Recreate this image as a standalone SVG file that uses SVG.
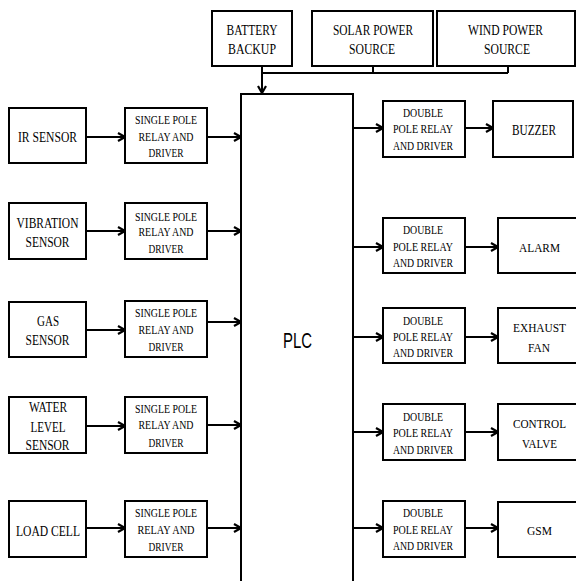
<svg xmlns="http://www.w3.org/2000/svg" width="576" height="581" viewBox="0 0 576 581">
<style>
.b{fill:#fff;stroke:#000;stroke-width:2}
.c{fill:none;stroke:#000;stroke-width:2}
text{font-family:"Liberation Serif","Times New Roman",serif;fill:#000;text-anchor:middle}
.t{font-size:14px}
.o{font-size:13px}
.r{font-size:12px}
.p{font-family:"Liberation Sans",Arial,sans-serif;font-size:22px}
</style>
<defs>
<marker id="ar" markerUnits="userSpaceOnUse" viewBox="0 0 10 10" markerWidth="10" markerHeight="10" refX="9" refY="5" orient="auto">
<path d="M2,1 L9,5 L2,9" fill="none" stroke="#000" stroke-width="2.2"/>
</marker>
</defs>
<rect width="576" height="581" fill="#fff"/>
<g id="connectors">
<line class="c" x1="262" y1="66" x2="262" y2="93" marker-end="url(#ar)"/>
<polyline class="c" points="262,73 508,73"/>
<line class="c" x1="373" y1="66" x2="373" y2="73"/>
<line class="c" x1="508" y1="66" x2="508" y2="73"/>
<line class="c" x1="86" y1="137" x2="125" y2="137" marker-end="url(#ar)"/>
<line class="c" x1="207" y1="137" x2="241" y2="137" marker-end="url(#ar)"/>
<line class="c" x1="86" y1="231" x2="125" y2="231" marker-end="url(#ar)"/>
<line class="c" x1="207" y1="231" x2="241" y2="231" marker-end="url(#ar)"/>
<line class="c" x1="86" y1="330" x2="125" y2="330" marker-end="url(#ar)"/>
<line class="c" x1="207" y1="322" x2="241" y2="322" marker-end="url(#ar)"/>
<line class="c" x1="86" y1="426" x2="125" y2="426" marker-end="url(#ar)"/>
<line class="c" x1="207" y1="425" x2="241" y2="425" marker-end="url(#ar)"/>
<line class="c" x1="86" y1="528" x2="125" y2="528" marker-end="url(#ar)"/>
<line class="c" x1="207" y1="528" x2="241" y2="528" marker-end="url(#ar)"/>
<line class="c" x1="353" y1="128" x2="383" y2="128" marker-end="url(#ar)"/>
<line class="c" x1="353" y1="247" x2="383" y2="247" marker-end="url(#ar)"/>
<line class="c" x1="353" y1="337" x2="383" y2="337" marker-end="url(#ar)"/>
<line class="c" x1="353" y1="432" x2="383" y2="432" marker-end="url(#ar)"/>
<line class="c" x1="347" y1="528" x2="383" y2="528" marker-end="url(#ar)"/>
<line class="c" x1="458" y1="128" x2="493" y2="128" marker-end="url(#ar)"/>
<line class="c" x1="465" y1="247" x2="498" y2="247" marker-end="url(#ar)"/>
<line class="c" x1="465" y1="337" x2="498" y2="337" marker-end="url(#ar)"/>
<line class="c" x1="465" y1="432" x2="498" y2="432" marker-end="url(#ar)"/>
<line class="c" x1="465" y1="528" x2="498" y2="528" marker-end="url(#ar)"/>
</g>
<g id="battery"><rect class="b" x="212" y="11" width="80" height="55"/>
<text class="t" x="252" y="35" textLength="51" lengthAdjust="spacingAndGlyphs">BATTERY</text>
<text class="t" x="252" y="54" textLength="48" lengthAdjust="spacingAndGlyphs">BACKUP</text></g>
<g id="solar"><rect class="b" x="312" y="11" width="121" height="55"/>
<text class="t" x="373" y="35" textLength="80" lengthAdjust="spacingAndGlyphs">SOLAR POWER</text>
<text class="t" x="372" y="54" textLength="46" lengthAdjust="spacingAndGlyphs">SOURCE</text></g>
<g id="wind"><rect class="b" x="437" y="11" width="138" height="55"/>
<text class="t" x="505.5" y="35" textLength="75" lengthAdjust="spacingAndGlyphs">WIND POWER</text>
<text class="t" x="507" y="54" textLength="46" lengthAdjust="spacingAndGlyphs">SOURCE</text></g>
<g id="plc"><rect class="b" x="241" y="94" width="112" height="500"/>
<text class="p" x="297.5" y="348" textLength="29" lengthAdjust="spacingAndGlyphs">PLC</text></g>
<g id="ir"><rect class="b" x="9" y="108" width="77" height="55"/>
<text class="t" x="47.5" y="142" textLength="59" lengthAdjust="spacingAndGlyphs">IR SENSOR</text></g>
<g id="vib"><rect class="b" x="9" y="203" width="77" height="56"/>
<text class="t" x="47.5" y="228" textLength="62" lengthAdjust="spacingAndGlyphs">VIBRATION</text>
<text class="t" x="47.5" y="247" textLength="44" lengthAdjust="spacingAndGlyphs">SENSOR</text></g>
<g id="gas"><rect class="b" x="9" y="302" width="77" height="55"/>
<text class="t" x="48" y="326" textLength="22" lengthAdjust="spacingAndGlyphs">GAS</text>
<text class="t" x="47.5" y="345" textLength="44" lengthAdjust="spacingAndGlyphs">SENSOR</text></g>
<g id="water"><rect class="b" x="9" y="397" width="77" height="56"/>
<text class="t" x="48" y="412" textLength="38" lengthAdjust="spacingAndGlyphs">WATER</text>
<text class="t" x="48" y="432" textLength="35" lengthAdjust="spacingAndGlyphs">LEVEL</text>
<text class="t" x="47.5" y="450" textLength="44" lengthAdjust="spacingAndGlyphs">SENSOR</text></g>
<g id="load"><rect class="b" x="9" y="501" width="77" height="56"/>
<text class="t" x="48" y="536" textLength="64" lengthAdjust="spacingAndGlyphs">LOAD CELL</text></g>
<g id="sp1"><rect class="b" x="125" y="108" width="82" height="55"/>
<text class="r" x="166" y="124" textLength="62" lengthAdjust="spacingAndGlyphs">SINGLE POLE</text>
<text class="r" x="166" y="141" textLength="55" lengthAdjust="spacingAndGlyphs">RELAY AND</text>
<text class="r" x="166" y="157" textLength="35" lengthAdjust="spacingAndGlyphs">DRIVER</text></g>
<g id="sp2"><rect class="b" x="125" y="203" width="82" height="56"/>
<text class="r" x="166" y="221" textLength="62" lengthAdjust="spacingAndGlyphs">SINGLE POLE</text>
<text class="r" x="166" y="236" textLength="55" lengthAdjust="spacingAndGlyphs">RELAY AND</text>
<text class="r" x="166" y="253" textLength="35" lengthAdjust="spacingAndGlyphs">DRIVER</text></g>
<g id="sp3"><rect class="b" x="125" y="301" width="82" height="56"/>
<text class="r" x="166" y="317" textLength="62" lengthAdjust="spacingAndGlyphs">SINGLE POLE</text>
<text class="r" x="166" y="334" textLength="55" lengthAdjust="spacingAndGlyphs">RELAY AND</text>
<text class="r" x="166" y="351" textLength="35" lengthAdjust="spacingAndGlyphs">DRIVER</text></g>
<g id="sp4"><rect class="b" x="125" y="397" width="82" height="56"/>
<text class="r" x="166" y="413" textLength="62" lengthAdjust="spacingAndGlyphs">SINGLE POLE</text>
<text class="r" x="166" y="429" textLength="55" lengthAdjust="spacingAndGlyphs">RELAY AND</text>
<text class="r" x="166" y="447" textLength="35" lengthAdjust="spacingAndGlyphs">DRIVER</text></g>
<g id="sp5"><rect class="b" x="125" y="501" width="82" height="56"/>
<text class="r" x="166" y="517" textLength="62" lengthAdjust="spacingAndGlyphs">SINGLE POLE</text>
<text class="r" x="166" y="534" textLength="57" lengthAdjust="spacingAndGlyphs">RELAY AND</text>
<text class="r" x="166" y="551" textLength="35" lengthAdjust="spacingAndGlyphs">DRIVER</text></g>
<g id="dp1"><rect class="b" x="383" y="101" width="82" height="56"/>
<text class="r" x="423" y="117" textLength="40" lengthAdjust="spacingAndGlyphs">DOUBLE</text>
<text class="r" x="423" y="133" textLength="60" lengthAdjust="spacingAndGlyphs">POLE RELAY</text>
<text class="r" x="423" y="150" textLength="60" lengthAdjust="spacingAndGlyphs">AND DRIVER</text></g>
<g id="dp2"><rect class="b" x="383" y="218" width="82" height="55"/>
<text class="r" x="423" y="234" textLength="40" lengthAdjust="spacingAndGlyphs">DOUBLE</text>
<text class="r" x="423" y="251" textLength="60" lengthAdjust="spacingAndGlyphs">POLE RELAY</text>
<text class="r" x="423" y="267" textLength="60" lengthAdjust="spacingAndGlyphs">AND DRIVER</text></g>
<g id="dp3"><rect class="b" x="383" y="308" width="82" height="55"/>
<text class="r" x="423" y="325" textLength="40" lengthAdjust="spacingAndGlyphs">DOUBLE</text>
<text class="r" x="423" y="341" textLength="60" lengthAdjust="spacingAndGlyphs">POLE RELAY</text>
<text class="r" x="423" y="357" textLength="60" lengthAdjust="spacingAndGlyphs">AND DRIVER</text></g>
<g id="dp4"><rect class="b" x="383" y="404" width="82" height="56"/>
<text class="r" x="423" y="421" textLength="40" lengthAdjust="spacingAndGlyphs">DOUBLE</text>
<text class="r" x="423" y="437" textLength="60" lengthAdjust="spacingAndGlyphs">POLE RELAY</text>
<text class="r" x="423" y="454" textLength="60" lengthAdjust="spacingAndGlyphs">AND DRIVER</text></g>
<g id="dp5"><rect class="b" x="383" y="501" width="82" height="56"/>
<text class="r" x="423" y="517" textLength="40" lengthAdjust="spacingAndGlyphs">DOUBLE</text>
<text class="r" x="423" y="534" textLength="60" lengthAdjust="spacingAndGlyphs">POLE RELAY</text>
<text class="r" x="423" y="550" textLength="60" lengthAdjust="spacingAndGlyphs">AND DRIVER</text></g>
<g id="buzzer"><rect class="b" x="493" y="101" width="80" height="56"/>
<text class="t" x="534" y="135" textLength="44" lengthAdjust="spacingAndGlyphs">BUZZER</text></g>
<g id="alarm"><rect class="b" x="498" y="218" width="90" height="55"/>
<text class="o" x="539.5" y="252" textLength="41" lengthAdjust="spacingAndGlyphs">ALARM</text></g>
<g id="fan"><rect class="b" x="498" y="308" width="90" height="55"/>
<text class="o" x="539.5" y="332" textLength="53" lengthAdjust="spacingAndGlyphs">EXHAUST</text>
<text class="o" x="539" y="352" textLength="22" lengthAdjust="spacingAndGlyphs">FAN</text></g>
<g id="valve"><rect class="b" x="498" y="404" width="90" height="56"/>
<text class="o" x="539.5" y="428" textLength="53" lengthAdjust="spacingAndGlyphs">CONTROL</text>
<text class="o" x="539.5" y="448" textLength="35" lengthAdjust="spacingAndGlyphs">VALVE</text></g>
<g id="gsm"><rect class="b" x="498" y="502" width="90" height="55"/>
<text class="o" x="539.5" y="535" textLength="25" lengthAdjust="spacingAndGlyphs">GSM</text></g>
</svg>
